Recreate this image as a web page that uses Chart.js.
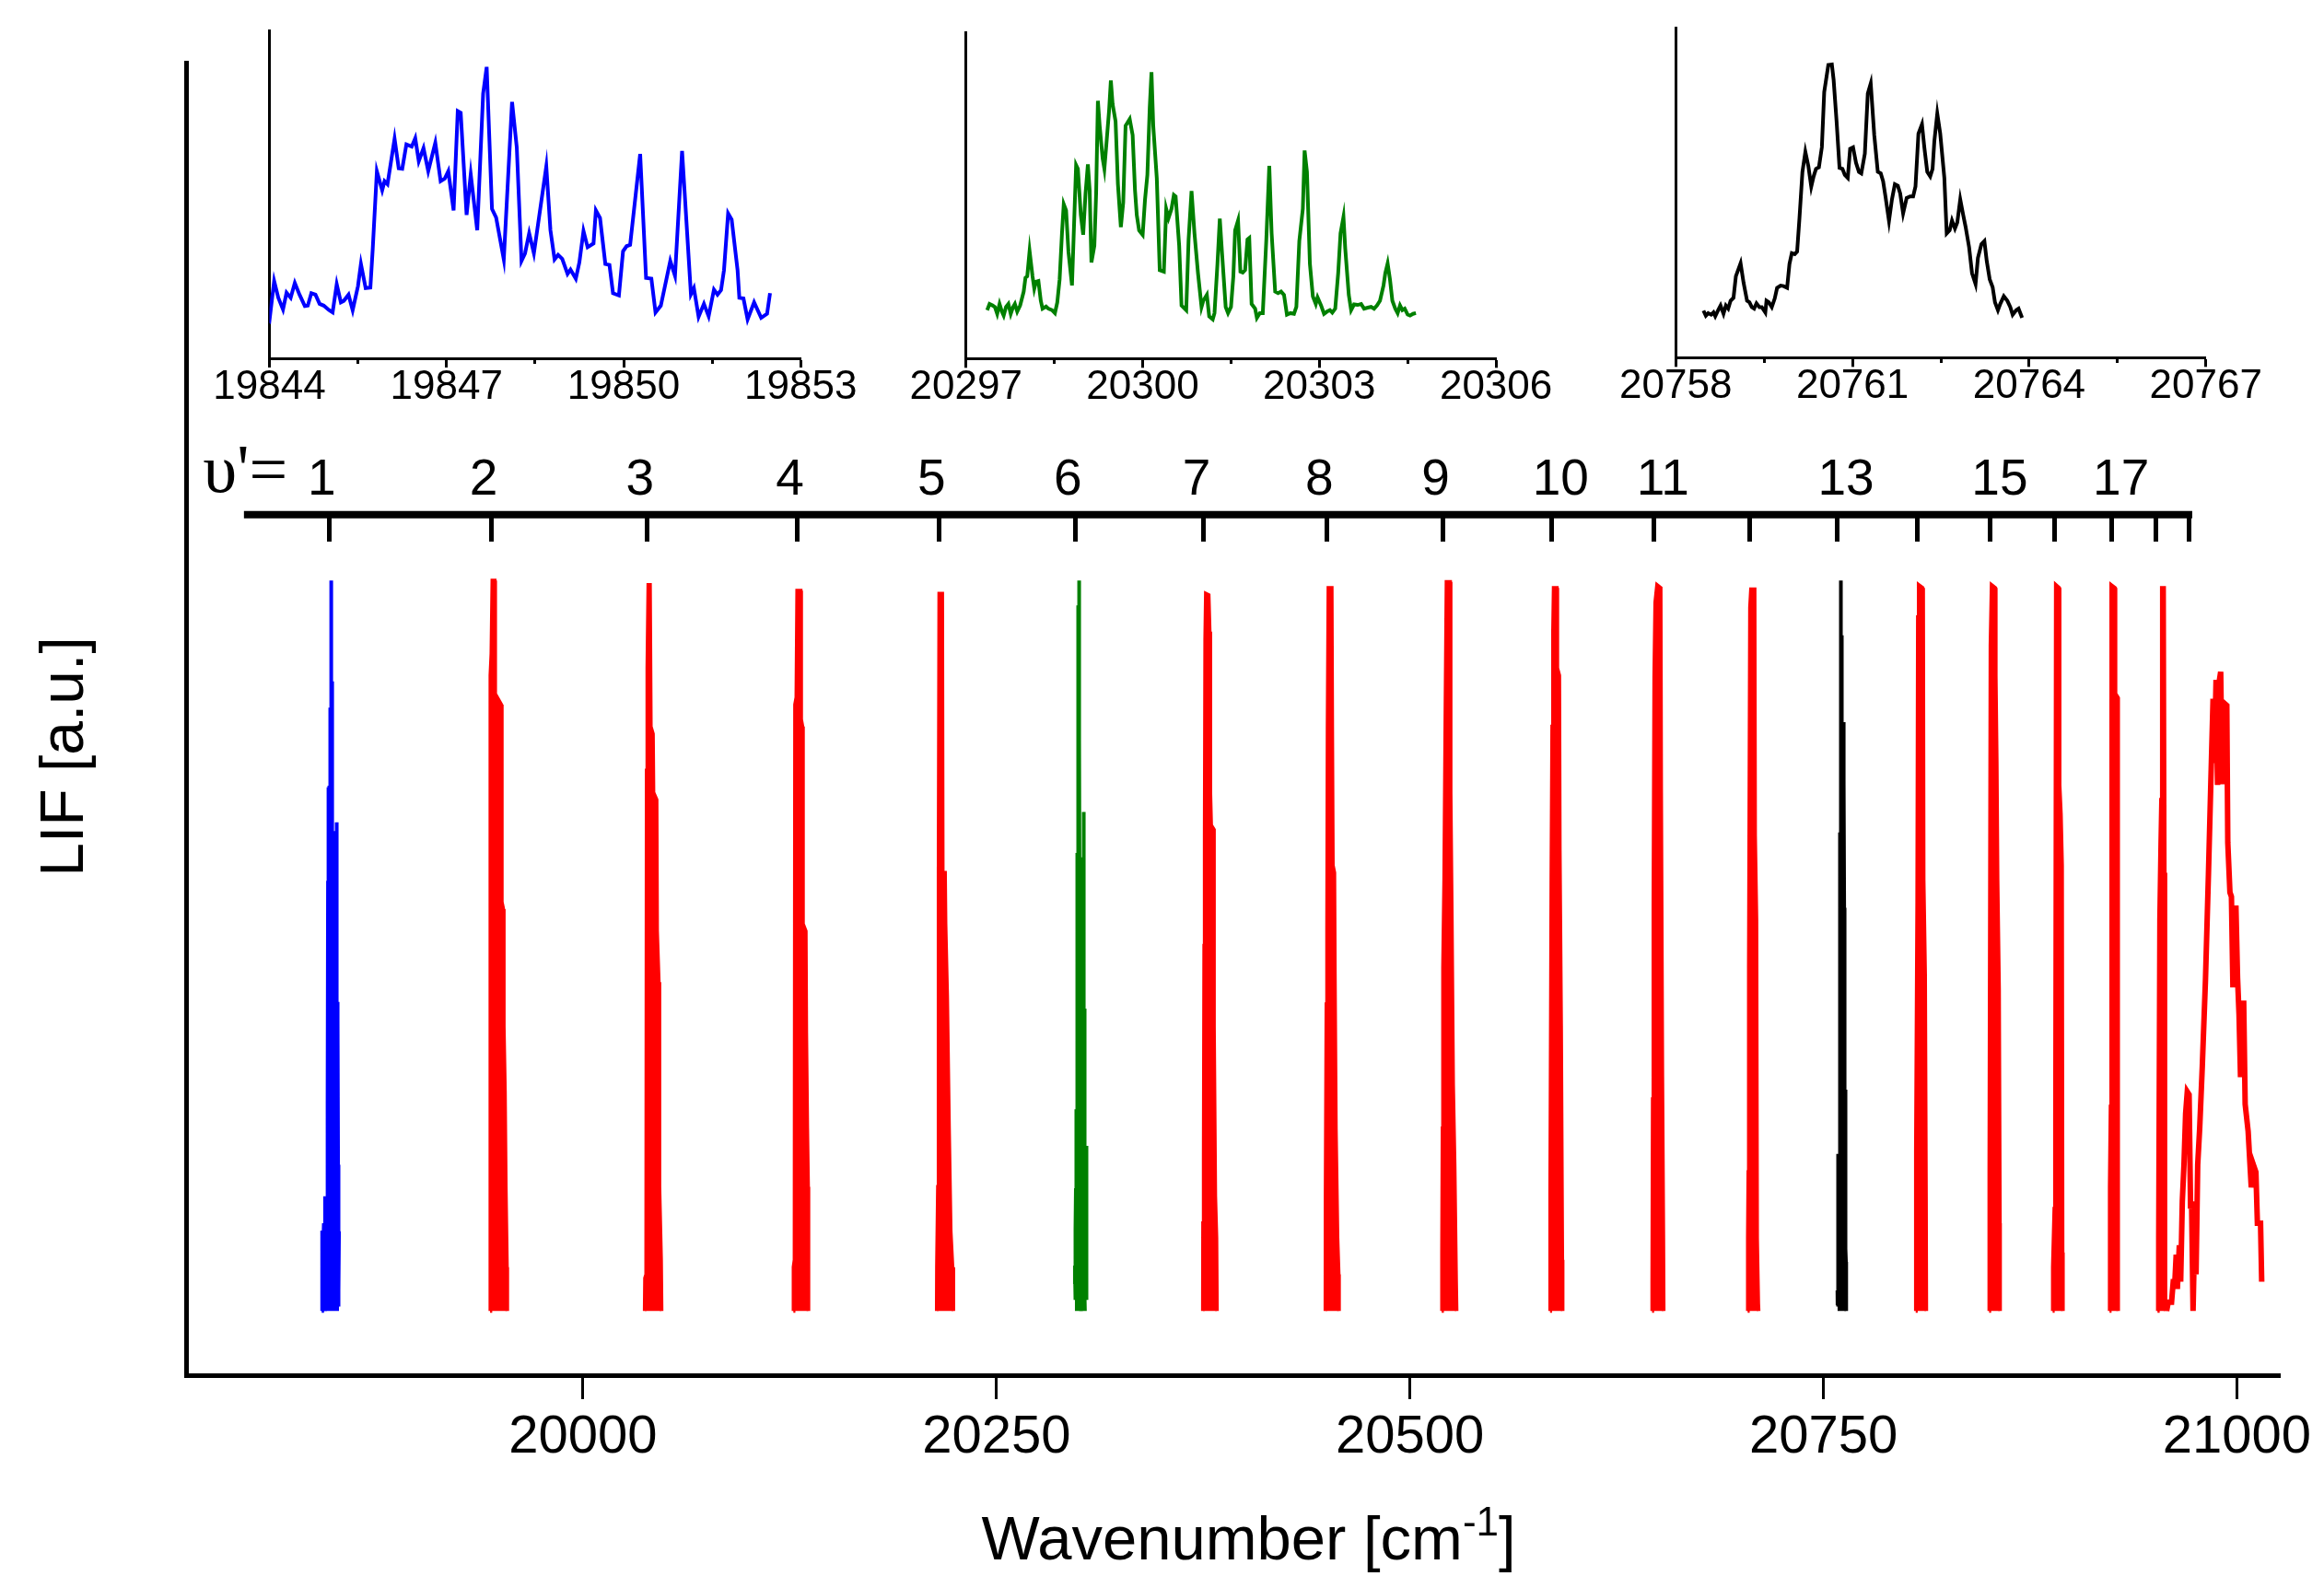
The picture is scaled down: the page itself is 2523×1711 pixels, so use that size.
<!DOCTYPE html>
<html>
<head>
<meta charset="utf-8">
<title>LIF spectrum</title>
<script src="https://cdn.jsdelivr.net/npm/chart.js@4.4.0/dist/chart.umd.min.js"></script>
<style>
  html, body { margin: 0; padding: 0; background: #fff; }
  #wrap { position: relative; width: 2523px; height: 1711px; overflow: hidden; background: #fff; }
  #wrap canvas { position: absolute; }
</style>
</head>
<body>
<div id="wrap">
  <canvas id="mainChart" width="2523" height="1711" style="left:0;top:0"></canvas>
  <canvas id="insetBlue" width="780" height="460" style="left:180px;top:0"></canvas>
  <canvas id="insetGreen" width="760" height="460" style="left:960px;top:0"></canvas>
  <canvas id="insetBlack" width="760" height="460" style="left:1730px;top:0"></canvas>
</div>
<script>
const FONT = '"Liberation Sans", Arial, sans-serif';
const SERIF = '"Liberation Serif", "Times New Roman", serif';
const RED = '#ff0000', BLUE = '#0000ff', GREEN = '#008000', BLACK = '#000000';

// main x axis
const mainTicks = [20000, 20250, 20500, 20750, 21000];

// v' progression (band origins) and labels
const levels = [19846.5, 19944.4, 20038.9, 20129.6, 20215.2, 20297.6, 20375.4, 20449.7, 20520.0, 20585.6,
                20647.4, 20705.2, 20758.1, 20806.5, 20851.0, 20889.9, 20924.4, 20951.1, 20971.1];
const levelLabels = ['1', '2', '3', '4', '5', '6', '7', '8', '9', '10', '11', '', '13', '', '15', '', '17', '', ''];
const levelBar = [19795, 20973];
const levelBarY = 1.09;

// inset axes
const blueTicks = [19844, 19847, 19850, 19853];
const blueMinor = [19845.5, 19848.5, 19851.5];
const greenTicks = [20297, 20300, 20303, 20306];
const greenMinor = [20298.5, 20301.5, 20304.5];
const blackTicks = [20758, 20761, 20764, 20767];
const blackMinor = [20759.5, 20762.5, 20765.5];

// v'=1 band (blue), normalised intensity
const blueBand = [
  [19842.0, 0], [19842.3, 0.11], [19842.8, 0.08], [19843.3, 0.12], [19843.7, 0.05],
  [19844.00, 0.000], [19844.08, 0.157], [19844.15, 0.091], [19844.23, 0.045], [19844.29, 0.111], [19844.36, 0.091],
  [19844.43, 0.149], [19844.51, 0.103], [19844.60, 0.058], [19844.65, 0.060], [19844.71, 0.109], [19844.78, 0.103],
  [19844.85, 0.067], [19844.92, 0.060], [19845.01, 0.042], [19845.07, 0.033], [19845.14, 0.144], [19845.21, 0.073],
  [19845.26, 0.079], [19845.34, 0.103], [19845.41, 0.042], [19845.50, 0.137], [19845.55, 0.224], [19845.63, 0.129],
  [19845.71, 0.131], [19845.75, 0.284], [19845.82, 0.589], [19845.91, 0.514], [19845.95, 0.550], [19846.00, 0.538],
  [19846.12, 0.717], [19846.19, 0.601], [19846.25, 0.599], [19846.32, 0.695], [19846.41, 0.686], [19846.47, 0.719],
  [19846.53, 0.629], [19846.61, 0.680], [19846.69, 0.590], [19846.81, 0.701], [19846.90, 0.550], [19846.97, 0.560],
  [19847.03, 0.589], [19847.12, 0.435], [19847.19, 0.826], [19847.24, 0.819], [19847.34, 0.417], [19847.41, 0.577],
  [19847.52, 0.357], [19847.62, 0.895], [19847.68, 1.000], [19847.77, 0.441], [19847.84, 0.407], [19847.97, 0.242],
  [19848.11, 0.862], [19848.19, 0.683], [19848.27, 0.236], [19848.33, 0.266], [19848.40, 0.345], [19848.48, 0.266],
  [19848.69, 0.608], [19848.76, 0.357], [19848.83, 0.242], [19848.89, 0.260], [19848.96, 0.244], [19849.05, 0.185],
  [19849.10, 0.202], [19849.19, 0.166], [19849.25, 0.230], [19849.32, 0.354], [19849.39, 0.290], [19849.49, 0.305],
  [19849.53, 0.435], [19849.60, 0.405], [19849.69, 0.224], [19849.76, 0.220], [19849.82, 0.109], [19849.92, 0.100],
  [19849.99, 0.274], [19850.05, 0.294], [19850.11, 0.299], [19850.28, 0.657], [19850.38, 0.169], [19850.47, 0.166],
  [19850.54, 0.033], [19850.63, 0.060], [19850.79, 0.236], [19850.87, 0.178], [19850.99, 0.669], [19851.14, 0.105],
  [19851.19, 0.129], [19851.27, 0.016], [19851.36, 0.067], [19851.44, 0.018], [19851.53, 0.123], [19851.59, 0.103],
  [19851.65, 0.121], [19851.70, 0.200], [19851.77, 0.423], [19851.83, 0.399], [19851.93, 0.200], [19851.96, 0.091],
  [19852.03, 0.088], [19852.10, 0.006], [19852.21, 0.073], [19852.33, 0.012], [19852.43, 0.028], [19852.48, 0.109]
];

// v'=6 band (green)
const greenBand = [
  [20297.36, 0.037], [20297.40, 0.062], [20297.45, 0.056], [20297.49, 0.050], [20297.53, 0.022], [20297.57, 0.062],
  [20297.61, 0.031], [20297.64, 0.015], [20297.68, 0.050], [20297.72, 0.062], [20297.76, 0.022], [20297.80, 0.050],
  [20297.83, 0.062], [20297.87, 0.031], [20297.92, 0.056], [20297.98, 0.112], [20298.01, 0.168], [20298.04, 0.174],
  [20298.08, 0.276], [20298.13, 0.174], [20298.16, 0.124], [20298.19, 0.152], [20298.23, 0.155], [20298.27, 0.075],
  [20298.30, 0.043], [20298.36, 0.052], [20298.40, 0.043], [20298.46, 0.037], [20298.51, 0.025], [20298.55, 0.068],
  [20298.59, 0.161], [20298.63, 0.348], [20298.66, 0.466], [20298.70, 0.441], [20298.74, 0.273], [20298.80, 0.137],
  [20298.83, 0.348], [20298.87, 0.624], [20298.90, 0.609], [20298.95, 0.422], [20298.99, 0.342], [20299.03, 0.509],
  [20299.07, 0.627], [20299.10, 0.522], [20299.13, 0.230], [20299.18, 0.298], [20299.21, 0.509], [20299.24, 0.884],
  [20299.27, 0.783], [20299.32, 0.652], [20299.35, 0.609], [20299.38, 0.696], [20299.43, 0.845], [20299.46, 0.966],
  [20299.49, 0.870], [20299.54, 0.801], [20299.58, 0.547], [20299.63, 0.373], [20299.67, 0.472], [20299.71, 0.783],
  [20299.78, 0.810], [20299.83, 0.745], [20299.87, 0.522], [20299.90, 0.422], [20299.94, 0.360], [20300.00, 0.342],
  [20300.04, 0.484], [20300.08, 0.584], [20300.12, 0.857], [20300.15, 1.000], [20300.18, 0.783], [20300.24, 0.571],
  [20300.29, 0.199], [20300.36, 0.193], [20300.40, 0.447], [20300.44, 0.410], [20300.49, 0.447], [20300.53, 0.503],
  [20300.56, 0.497], [20300.62, 0.298], [20300.66, 0.056], [20300.74, 0.037], [20300.78, 0.323], [20300.83, 0.519],
  [20300.88, 0.348], [20300.94, 0.186], [20301.00, 0.050], [20301.03, 0.075], [20301.09, 0.099], [20301.13, 0.012],
  [20301.19, 0.000], [20301.22, 0.025], [20301.27, 0.224], [20301.31, 0.407], [20301.35, 0.261], [20301.41, 0.050],
  [20301.45, 0.025], [20301.50, 0.050], [20301.54, 0.174], [20301.57, 0.360], [20301.62, 0.400], [20301.66, 0.193],
  [20301.70, 0.189], [20301.74, 0.199], [20301.78, 0.323], [20301.81, 0.329], [20301.85, 0.062], [20301.91, 0.043],
  [20301.94, 0.006], [20301.99, 0.025], [20302.04, 0.025], [20302.10, 0.323], [20302.15, 0.621], [20302.19, 0.348],
  [20302.25, 0.112], [20302.30, 0.106], [20302.35, 0.112], [20302.40, 0.099], [20302.45, 0.019], [20302.51, 0.025],
  [20302.57, 0.022], [20302.61, 0.050], [20302.66, 0.317], [20302.72, 0.447], [20302.75, 0.683], [20302.79, 0.596],
  [20302.84, 0.224], [20302.89, 0.093], [20302.94, 0.062], [20302.97, 0.089], [20303.03, 0.056], [20303.08, 0.022],
  [20303.13, 0.031], [20303.18, 0.037], [20303.22, 0.027], [20303.27, 0.043], [20303.32, 0.186], [20303.36, 0.348],
  [20303.41, 0.414], [20303.44, 0.286], [20303.50, 0.099], [20303.54, 0.037], [20303.59, 0.060], [20303.65, 0.058],
  [20303.71, 0.062], [20303.76, 0.043], [20303.82, 0.047], [20303.88, 0.050], [20303.93, 0.043], [20303.98, 0.056],
  [20304.03, 0.075], [20304.09, 0.137], [20304.12, 0.186], [20304.16, 0.226], [20304.20, 0.161], [20304.24, 0.075],
  [20304.29, 0.043], [20304.33, 0.025], [20304.37, 0.056], [20304.41, 0.037], [20304.45, 0.043], [20304.50, 0.019],
  [20304.54, 0.015], [20304.59, 0.022], [20304.64, 0.025]
];

// v'=13 band (black)
const blackBand = [
  [20758.47, 0.028], [20758.51, 0.008], [20758.55, 0.018], [20758.60, 0.012], [20758.64, 0.021], [20758.67, 0.006],
  [20758.72, 0.030], [20758.76, 0.048], [20758.81, 0.016], [20758.85, 0.048], [20758.89, 0.036], [20758.93, 0.067],
  [20758.98, 0.079], [20759.02, 0.164], [20759.10, 0.215], [20759.15, 0.139], [20759.21, 0.067], [20759.25, 0.061],
  [20759.29, 0.042], [20759.33, 0.036], [20759.37, 0.057], [20759.42, 0.042], [20759.46, 0.042], [20759.52, 0.021],
  [20759.54, 0.067], [20759.58, 0.061], [20759.63, 0.042], [20759.68, 0.076], [20759.72, 0.118], [20759.78, 0.127],
  [20759.83, 0.125], [20759.89, 0.118], [20759.93, 0.212], [20759.97, 0.255], [20760.02, 0.251], [20760.06, 0.261],
  [20760.10, 0.394], [20760.15, 0.576], [20760.20, 0.655], [20760.25, 0.600], [20760.30, 0.518], [20760.34, 0.558],
  [20760.38, 0.588], [20760.43, 0.594], [20760.48, 0.673], [20760.52, 0.891], [20760.59, 0.998], [20760.65, 1.000],
  [20760.68, 0.939], [20760.73, 0.776], [20760.78, 0.592], [20760.83, 0.588], [20760.87, 0.564], [20760.92, 0.552],
  [20760.96, 0.667], [20761.01, 0.673], [20761.06, 0.612], [20761.11, 0.576], [20761.15, 0.570], [20761.21, 0.648],
  [20761.26, 0.885], [20761.31, 0.925], [20761.37, 0.721], [20761.43, 0.576], [20761.48, 0.570], [20761.52, 0.539],
  [20761.56, 0.479], [20761.62, 0.382], [20761.67, 0.467], [20761.72, 0.527], [20761.77, 0.521], [20761.81, 0.491],
  [20761.86, 0.412], [20761.92, 0.473], [20761.98, 0.479], [20762.03, 0.479], [20762.07, 0.518], [20762.12, 0.727],
  [20762.18, 0.764], [20762.22, 0.673], [20762.27, 0.576], [20762.32, 0.558], [20762.36, 0.588], [20762.39, 0.697],
  [20762.44, 0.806], [20762.49, 0.727], [20762.56, 0.552], [20762.60, 0.333], [20762.65, 0.345], [20762.69, 0.384],
  [20762.74, 0.352], [20762.78, 0.376], [20762.83, 0.467], [20762.88, 0.406], [20762.92, 0.360], [20762.98, 0.279],
  [20763.03, 0.176], [20763.09, 0.133], [20763.13, 0.236], [20763.19, 0.291], [20763.24, 0.303], [20763.28, 0.224],
  [20763.33, 0.152], [20763.38, 0.121], [20763.42, 0.061], [20763.47, 0.030], [20763.51, 0.055], [20763.57, 0.085],
  [20763.63, 0.067], [20763.68, 0.042], [20763.72, 0.012], [20763.78, 0.030], [20763.82, 0.036], [20763.88, 0.000]
];

// remaining bands (red), read as envelopes from the main panel
const band2 = [[19943.8, 0], [19944.0, 0.87], [19944.6, 0.9], [19945.2, 1.0], [19946.6, 1.0], [19946.9, 0.74], [19947.8, 0.75],
  [19948.1, 0.84], [19950.6, 0.83], [19950.9, 0.56], [19951.8, 0.55], [19952.1, 0.39], [19952.8, 0.30], [19953.3, 0.17], [19954.0, 0.06], [19954.2, 0]];
const band3 = [[20037.3, 0], [20037.5, 0.045], [20038.2, 0.05], [20038.5, 0.74], [20038.9, 0.88], [20039.5, 0.994], [20040.5, 0.994],
  [20041.0, 0.80], [20042.3, 0.79], [20042.6, 0.71], [20044.5, 0.70], [20044.8, 0.52], [20045.8, 0.45], [20046.2, 0.17], [20047.2, 0.07], [20047.5, 0]];
const band4 = [[20127.2, 0], [20127.3, 0.06], [20127.9, 0.07], [20128.2, 0.83], [20129.0, 0.84], [20129.5, 0.986], [20131.6, 0.986],
  [20131.9, 0.81], [20132.7, 0.80], [20133.0, 0.53], [20134.7, 0.52], [20135.0, 0.38], [20135.6, 0.25], [20136.1, 0.17], [20136.3, 0]];
const band5 = [[20213.9, 0], [20214.0, 0.06], [20214.6, 0.17], [20215.0, 0.6], [20215.4, 0.982], [20217.2, 0.982], [20217.5, 0.60],
  [20218.9, 0.60], [20219.2, 0.53], [20220.2, 0.43], [20221.3, 0.25], [20222.3, 0.11], [20223.4, 0.06], [20223.9, 0]];
const band7 = [[20374.8, 0], [20374.9, 0.12], [20375.3, 0.21], [20375.6, 0.5], [20375.9, 0.65], [20376.2, 0.92], [20376.6, 0.982],
  [20378.3, 0.98], [20378.9, 0.93], [20379.3, 0.71], [20379.8, 0.665], [20381.2, 0.66], [20381.5, 0.39], [20382.3, 0.157], [20383.0, 0.10], [20383.3, 0]];
const band8 = [[20448.9, 0], [20449.0, 0.16], [20449.5, 0.42], [20449.9, 0.52], [20450.2, 0.80], [20450.7, 0.99], [20452.7, 0.99],
  [20453.0, 0.80], [20453.4, 0.61], [20454.3, 0.60], [20454.6, 0.46], [20455.2, 0.25], [20456.2, 0.10], [20456.9, 0.05], [20457.1, 0]];
const band9 = [[20519.2, 0], [20519.4, 0.08], [20519.7, 0.25], [20520.0, 0.47], [20520.7, 0.59], [20521.5, 0.835], [20522.1, 0.998],
  [20524.3, 0.998], [20524.6, 0.71], [20525.3, 0.54], [20526.1, 0.31], [20527.0, 0.20], [20527.9, 0.04], [20528.2, 0]];
const band10 = [[20584.7, 0], [20584.8, 0.16], [20585.5, 0.59], [20586.0, 0.80], [20586.5, 0.93], [20586.9, 0.99], [20588.8, 0.99],
  [20589.1, 0.88], [20590.3, 0.87], [20590.6, 0.63], [20591.4, 0.39], [20592.1, 0.07], [20592.3, 0]];
const band11 = [[20646.4, 0], [20646.5, 0.04], [20646.8, 0.29], [20647.2, 0.555], [20647.7, 0.868], [20648.3, 0.97], [20649.4, 0.994],
  [20651.6, 0.99], [20651.9, 0.71], [20652.6, 0.32], [20653.2, 0.10], [20653.4, 0]];
const band12 = [[20704.2, 0], [20704.3, 0.10], [20704.6, 0.19], [20704.9, 0.47], [20705.6, 0.963], [20706.2, 0.988], [20708.4, 0.988],
  [20708.7, 0.65], [20709.5, 0.535], [20709.9, 0.10], [20710.6, 0.01], [20710.8, 0]];
const band14 = [[20805.8, 0], [20805.9, 0.22], [20806.7, 0.56], [20807.1, 0.95], [20807.6, 0.994], [20809.9, 0.99], [20810.3, 0.98],
  [20810.6, 0.59], [20811.5, 0.46], [20812.0, 0.16], [20812.2, 0]];
const band15 = [[20850.2, 0], [20850.3, 0.19], [20851.0, 0.91], [20851.7, 0.994], [20853.9, 0.99], [20854.2, 0.87], [20854.8, 0.75],
  [20855.3, 0.59], [20856.2, 0.44], [20856.7, 0.12], [20856.8, 0]];
const band16 = [[20888.6, 0], [20888.7, 0.06], [20889.6, 0.14], [20890.0, 0.27], [20890.5, 0.994], [20892.5, 0.99], [20892.8, 0.72],
  [20893.6, 0.68], [20894.3, 0.61], [20894.6, 0.08], [20894.8, 0]];
const band17 = [[20923.0, 0], [20923.1, 0.17], [20923.6, 0.28], [20924.0, 0.994], [20926.3, 0.99], [20926.6, 0.845], [20928.0, 0.84], [20928.2, 0]];
const band18 = [[20952.0, 0], [20952.2, 0.1], [20952.9, 0.535], [20953.6, 0.64], [20954.1, 0.70], [20954.6, 0.99], [20956.0, 0.99],
  [20956.4, 0.6], [20956.8, 0]];
// broad feature at the high-energy end
const broadBand = [
  [20957.5, 0.0], [20958.5, 0.012], [20960.5, 0.012], [20961.5, 0.04], [20962.5, 0.04], [20963.3, 0.077], [20964.0, 0.03],
  [20965.2, 0.09], [20966.0, 0.04], [20967.0, 0.15], [20968.0, 0.2], [20969.0, 0.27], [20970.0, 0.3], [20971.1, 0.296],
  [20972.0, 0.14], [20972.6, 0.15], [20973.5, 0.0], [20974.4, 0.1], [20975.3, 0.05], [20976.3, 0.2], [20977.5, 0.25],
  [20979.1, 0.336], [20981.0, 0.453], [20982.8, 0.598], [20984.2, 0.72], [20985.6, 0.838], [20986.4, 0.75], [20987.4, 0.864],
  [20988.3, 0.72], [20989.2, 0.86], [20990.2, 0.875], [20991.1, 0.721], [20992.4, 0.832], [20993.9, 0.829], [20994.5, 0.641],
  [20995.8, 0.573], [20996.7, 0.567], [20997.6, 0.443], [20999.4, 0.555], [21000.4, 0.456], [21001.3, 0.406], [21002.2, 0.32],
  [21004.1, 0.425], [21005.0, 0.283], [21006.8, 0.246], [21008.7, 0.169], [21010.0, 0.2], [21011.5, 0.19], [21012.4, 0.12],
  [21014.3, 0.12], [21015.0, 0.04]
];

Chart.defaults.font.family = FONT;
Chart.defaults.color = '#000';

const toXY = arr => arr.map(p => ({ x: p[0], y: p[1] }));
const fixedTicks = list => scale => { scale.ticks = list.map(v => ({ value: v })); };

function bandSet(data, color, fill, width) {
  return {
    data: toXY(data), showLine: true, borderColor: color, backgroundColor: color,
    borderWidth: width || 4, pointRadius: 0, fill: fill ? 'origin' : false, borderJoinStyle: 'miter'
  };
}

const mainSets = [
  bandSet(blueBand, BLUE, true),
  bandSet(band2, RED, true), bandSet(band3, RED, true), bandSet(band4, RED, true), bandSet(band5, RED, true),
  bandSet(greenBand, GREEN, true),
  bandSet(band7, RED, true), bandSet(band8, RED, true), bandSet(band9, RED, true), bandSet(band10, RED, true),
  bandSet(band11, RED, true), bandSet(band12, RED, true),
  bandSet(blackBand, BLACK, true),
  bandSet(band14, RED, true), bandSet(band15, RED, true), bandSet(band16, RED, true), bandSet(band17, RED, true),
  bandSet(band18, RED, true),
  bandSet(broadBand, RED, false, 6),
  {
    data: [{ x: levelBar[0], y: levelBarY }, { x: levelBar[1], y: levelBarY }],
    showLine: true, borderColor: BLACK, borderWidth: 8, pointRadius: 0, borderCapStyle: 'butt', fill: false
  }
];

// titles and v' labels
const annotate = {
  id: 'annotate',
  afterDraw(chart) {
    const { ctx, chartArea, scales } = chart;
    ctx.save();
    ctx.fillStyle = '#000';

    ctx.save();
    ctx.font = '66px ' + FONT;
    ctx.textAlign = 'center';
    ctx.textBaseline = 'middle';
    ctx.translate(chartArea.left - 130, (chartArea.top + chartArea.bottom) / 2 + 41);
    ctx.rotate(-Math.PI / 2);
    ctx.fillText('LIF [a.u.]', 0, 0);
    ctx.restore();

    const base = chartArea.bottom + 200;
    const cx = (chartArea.left + chartArea.right) / 2 + 17;
    ctx.textAlign = 'left';
    ctx.textBaseline = 'alphabetic';
    ctx.font = '67px ' + FONT;
    const w1 = ctx.measureText('Wavenumber [cm').width;
    const w3 = ctx.measureText(']').width;
    ctx.font = '44px ' + FONT;
    const w2 = ctx.measureText('-1').width;
    let x = cx - (w1 + w2 + w3) / 2;
    ctx.font = '67px ' + FONT;
    ctx.fillText('Wavenumber [cm', x, base);
    x += w1;
    ctx.font = '44px ' + FONT;
    ctx.fillText('-1', x, base - 26);
    x += w2;
    ctx.font = '67px ' + FONT;
    ctx.fillText(']', x, base);

    const xv = scales.xv;
    const barPx = scales.y.getPixelForValue(levelBarY);
    ctx.font = '55px ' + FONT;
    ctx.textAlign = 'center';
    levels.forEach((lv, i) => {
      const t = levelLabels[i];
      if (!t) return;
      const px = xv.getPixelForValue(lv) + (t.length > 1 ? 10 : -8);
      ctx.fillText(t, px, barPx - 22);
    });
    ctx.font = '74px ' + SERIF;
    ctx.textAlign = 'right';
    ctx.fillText('\u03C5\'=', xv.getPixelForValue(levels[0]) - 45, barPx - 25);
    ctx.restore();
  }
};

new Chart(document.getElementById('mainChart'), {
  type: 'scatter',
  data: { datasets: mainSets },
  options: {
    responsive: false,
    animation: false,
    events: [],
    layout: { padding: { left: 0, top: 68, right: 45, bottom: 0 } },
    plugins: { legend: { display: false }, tooltip: { enabled: false } },
    scales: {
      x: {
        type: 'linear', min: 19760, max: 21026,
        afterBuildTicks: fixedTicks(mainTicks),
        afterFit: s => { s.height = 218; },
        grid: { display: true, drawOnChartArea: false, drawTicks: true, tickLength: 26, tickWidth: 3, tickColor: BLACK },
        border: { display: true, width: 5, color: BLACK },
        ticks: { autoSkip: false, maxRotation: 0, padding: 13, color: BLACK,
                 font: { family: FONT, size: 58, lineHeight: 1 }, callback: v => String(v) }
      },
      xv: {
        type: 'linear', axis: 'x', position: { y: levelBarY }, min: 19760, max: 21026,
        afterBuildTicks: fixedTicks(levels),
        grid: { display: true, drawOnChartArea: false, drawTicks: true, tickLength: 29, tickWidth: 5, tickColor: BLACK },
        border: { display: false },
        ticks: { display: false }
      },
      y: {
        type: 'linear', min: -0.088, max: 1.709,
        afterFit: s => { s.width = 202; },
        grid: { display: false },
        border: { display: true, width: 5, color: BLACK },
        ticks: { display: false }
      }
    }
  },
  plugins: [annotate]
});

function makeInset(id, data, color, ticks, minor, xMin, xMax, yMin, yMax, box) {
  new Chart(document.getElementById(id), {
    type: 'scatter',
    data: { datasets: [{ data: toXY(data), showLine: true, borderColor: color, borderWidth: 4, pointRadius: 0, fill: false }] },
    options: {
      responsive: false,
      animation: false,
      events: [],
      layout: { padding: { left: 0, top: box.top, right: box.right, bottom: 0 } },
      plugins: { legend: { display: false }, tooltip: { enabled: false } },
      scales: {
        x: {
          type: 'linear', min: xMin, max: xMax,
          afterBuildTicks: fixedTicks(ticks),
          afterFit: s => { s.height = box.axisH; },
          grid: { display: true, drawOnChartArea: false, drawTicks: true, tickLength: 10, tickWidth: 3, tickColor: BLACK },
          border: { display: true, width: 3, color: BLACK },
          ticks: { autoSkip: false, maxRotation: 0, padding: 0, color: BLACK,
                   font: { family: FONT, size: 44, lineHeight: 1 }, callback: v => String(v) }
        },
        xm: {
          type: 'linear', axis: 'x', position: { y: yMin }, min: xMin, max: xMax,
          afterBuildTicks: fixedTicks(minor),
          grid: { display: true, drawOnChartArea: false, drawTicks: true, tickLength: 6, tickWidth: 3, tickColor: BLACK },
          border: { display: false },
          ticks: { display: false }
        },
        y: {
          type: 'linear', min: yMin, max: yMax,
          afterFit: s => { s.width = box.left; },
          grid: { display: false },
          border: { display: true, width: 3, color: BLACK },
          ticks: { display: false }
        }
      }
    }
  });
}

makeInset('insetBlue', blueBand, BLUE, blueTicks, blueMinor, 19844, 19853, -0.1475, 1.1427,
          { left: 112.5, right: 90.7, top: 33.3, axisH: 71 });
makeInset('insetGreen', greenBand, GREEN, greenTicks, greenMinor, 20297, 20306, -0.159, 1.1615,
          { left: 88.7, right: 95.9, top: 35, axisH: 70.7 });
makeInset('insetBlack', blackBand, BLACK, blackTicks, blackMinor, 20758, 20767, -0.1576, 1.1455,
          { left: 89.3, right: 95.3, top: 30, axisH: 71.7 });
</script>
</body>
</html>
